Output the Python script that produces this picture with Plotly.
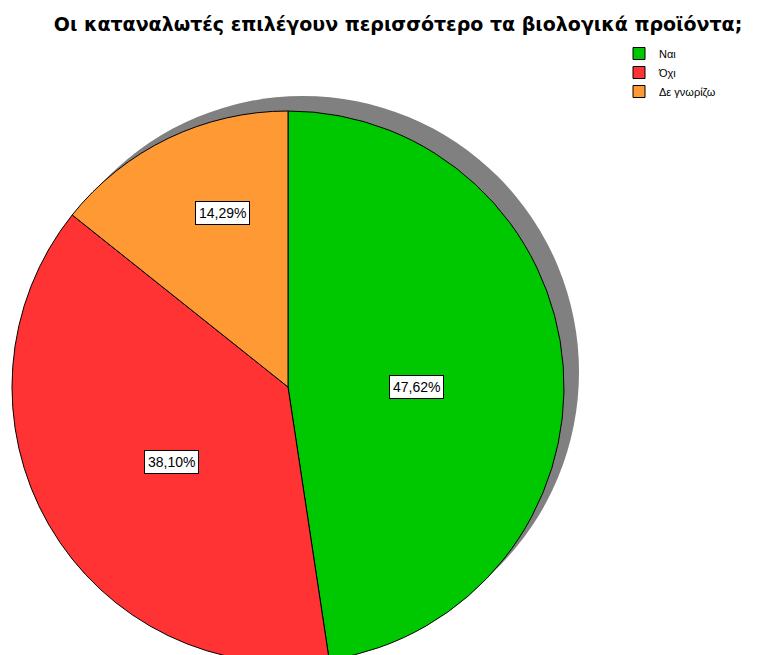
import math
import plotly.graph_objects as go

labels = ["Ναι", "Όχι", "Δε γνωρίζω"]
values = [47.62, 38.10, 14.29]
colors = ["#00C800", "#FF3333", "#FF9933"]
# label placement: fraction of radius, angle tweak (deg) from slice middle
label_radial = [0.467, 0.503, 0.674]
label_angle_adj = [4.3, -2.7, 5.2]

W, H = 760, 665
cx, cy, r = 288, 387, 276
sdx, sdy = 15, -15

fig = go.Figure()
# shadow
fig.add_trace(go.Pie(
    values=[1], labels=["shadow"], marker=dict(colors=["#808080"]),
    textinfo="none", hoverinfo="skip", showlegend=False, sort=False,
    domain=dict(x=[(cx + sdx - r) / W, (cx + sdx + r) / W],
                y=[1 - (cy + sdy + r) / H, 1 - (cy + sdy - r) / H]),
))
fig.add_trace(go.Pie(
    values=values, labels=labels, marker=dict(colors=colors, line=dict(color="black", width=1)),
    textinfo="none", sort=False, direction="clockwise", rotation=0,
    domain=dict(x=[(cx - r) / W, (cx + r) / W],
                y=[1 - (cy + r) / H, 1 - (cy - r) / H]),
))

total = sum(values)
cum = 0
for v, f, adj in zip(values, label_radial, label_angle_adj):
    mid = (cum + v / 2) / total * 2 * math.pi + math.radians(adj)
    cum += v
    px = cx + math.sin(mid) * f * r
    py = cy - math.cos(mid) * f * r
    fig.add_annotation(
        x=px / W, y=1 - py / H, xref="paper", yref="paper", showarrow=False,
        xanchor="center", yanchor="middle",
        text=f"{v:.2f}%".replace(".", ","),
        font=dict(family="Liberation Sans, Arial", size=14, color="black"),
        bgcolor="white", bordercolor="black", borderwidth=1, borderpad=3,
    )

fig.update_layout(
    width=W, height=H,
    margin=dict(l=0, r=0, t=0, b=0),
    paper_bgcolor="white", plot_bgcolor="white",
    title=dict(text="<b>Οι καταναλωτές επιλέγουν περισσότερο τα βιολογικά προϊόντα;</b>",
               x=398 / W, xanchor="center", y=1 - 24 / H, yanchor="middle",
               font=dict(family="DejaVu Sans", size=19, color="black")),
    legend=dict(x=619 / W, xanchor="left", y=1 - 39 / H, yanchor="top",
                font=dict(family="Liberation Sans, Arial", size=11, color="black"),
                itemwidth=30, tracegroupgap=0, bgcolor="rgba(0,0,0,0)"),
)

fig.write_html("out.html", config={"displayModeBar": False},
               post_script="document.body.style.margin='0';document.body.style.overflow='hidden';document.documentElement.style.overflow='hidden';")
